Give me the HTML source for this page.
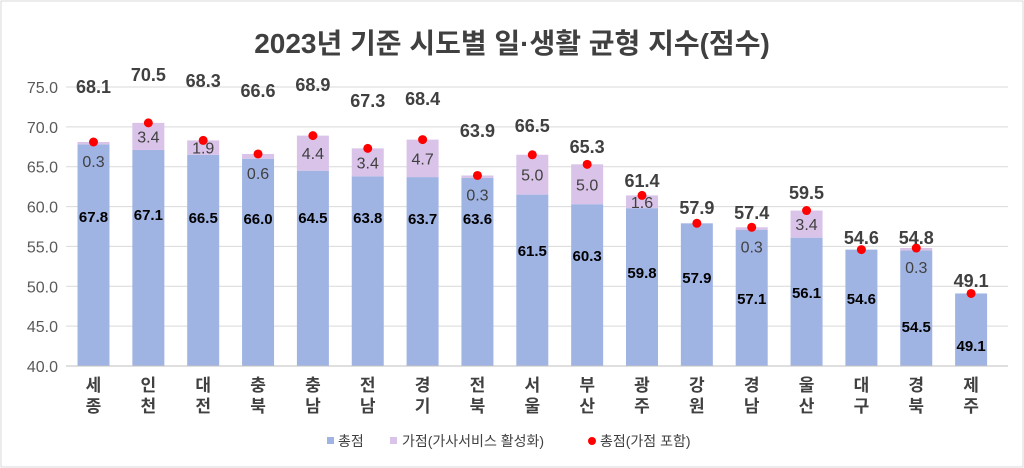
<!DOCTYPE html>
<html><head><meta charset="utf-8"><style>
body{margin:0;background:#fff}
svg{display:block;font-family:"Liberation Sans","Noto Sans CJK KR",sans-serif}
</style></head><body>
<svg width="1024" height="468" viewBox="0 0 1024 468">
<rect x="1" y="1" width="1022" height="466" fill="#fff" stroke="#d9d9d9"/>
<text x="512" y="53" text-anchor="middle" font-size="28" font-weight="bold" fill="#404040">2023년 기준 시도별 일·생활 균형 지수(점수)</text>
<g id="g"></g>
<g font-size="14" fill="#404040">
<rect x="327" y="437" width="7" height="7" fill="#a0b4e4"/><text x="338" y="446">총점</text>
<rect x="390" y="437" width="7" height="7" fill="#d9c3e9"/><text x="402" y="446">가점(가사서비스 활성화)</text>
<circle cx="592" cy="441" r="4" fill="#f00"/><text x="600" y="446">총점(가점 포함)</text>
</g>
</svg>
<script>
const base=[67.8,67.1,66.5,66.0,64.5,63.8,63.7,63.6,61.5,60.3,59.8,57.9,57.1,56.1,54.6,54.5,49.1];
const tot=[68.1,70.5,68.3,66.6,68.9,67.3,68.4,63.9,66.5,65.3,61.4,57.9,57.4,59.5,54.6,54.8,49.1];
const add=["0.3","3.4","1.9","0.6","4.4","3.4","4.7","0.3","5.0","5.0","1.6","","0.3","3.4","","0.3",""];
const by=[216,214,217,218,217,217,218,218,250,255,272,277,298,292,298,326,345];
const ty=[86,74,80,90,84,100,98,130,125,146,180,207,212,192,237,237,280];
const names=["세종","인천","대전","충북","충남","전남","경기","전북","서울","부산","광주","강원","경남","울산","대구","경북","제주"];
const Y=v=>87+(75-v)*279/35;
let s="";
for(let i=0;i<8;i++){const v=40+i*5,y=Y(v);s+=`<line x1="66" x2="1008" y1="${y}" y2="${y}" stroke="#d9d9d9"/><text x="58" y="${y+6}" text-anchor="end" font-size="16" fill="#595959">${v.toFixed(1)}</text>`;}
for(let i=0;i<17;i++){
const cx=93.5+i*54.85,x=cx-16;
s+=`<rect x="${x}" y="${Y(base[i])}" width="32" height="${Y(40)-Y(base[i])}" fill="#a0b4e4"/>`;
if(tot[i]>base[i])s+=`<rect x="${x}" y="${Y(tot[i])}" width="32" height="${Y(base[i])-Y(tot[i])}" fill="#d9c3e9"/>`;
s+=`<text x="${cx}" y="${by[i]+6}" text-anchor="middle" font-size="15" font-weight="bold" fill="#000">${base[i].toFixed(1)}</text>`;
if(add[i]){const a=+add[i];const yy=a<1?Y(tot[i])+19:(Y(tot[i])+Y(base[i]))/2;s+=`<text x="${cx}" y="${yy+6}" text-anchor="middle" font-size="16" fill="#404040">${add[i]}</text>`;}
s+=`<circle cx="${cx}" cy="${Y(tot[i])}" r="4.5" fill="#f00"/>`;
s+=`<text x="${cx}" y="${ty[i]+7}" text-anchor="middle" font-size="18" font-weight="bold" fill="#404040">${tot[i].toFixed(1)}</text>`;
s+=`<text x="${cx}" y="391" text-anchor="middle" font-size="17" font-weight="bold" fill="#404040">${names[i][0]}</text><text x="${cx}" y="412" text-anchor="middle" font-size="17" font-weight="bold" fill="#404040">${names[i][1]}</text>`;
}
s+=`<line x1="66" x2="1008" y1="${Y(40)}" y2="${Y(40)}" stroke="#bfbfbf"/>`;
document.getElementById("g").innerHTML=s;
</script>
</body></html>
